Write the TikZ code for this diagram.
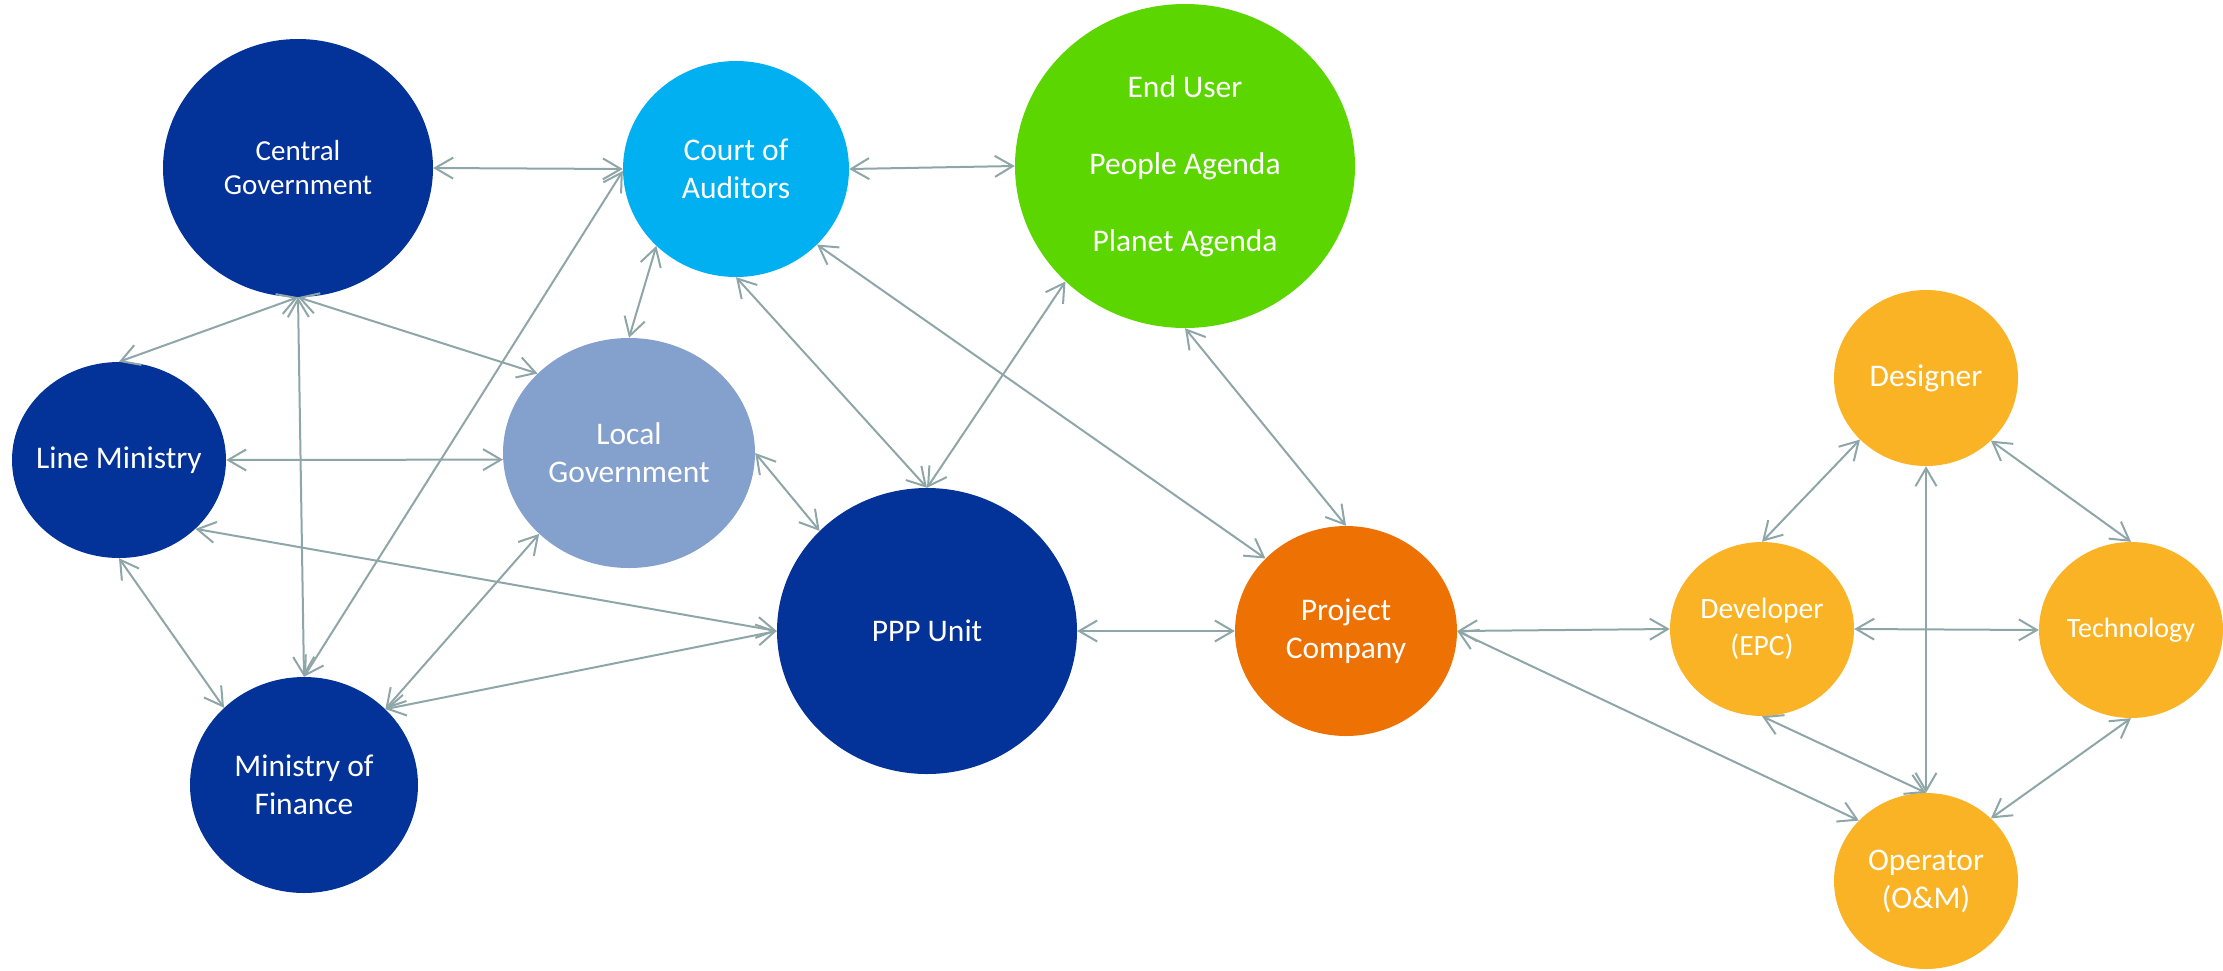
\documentclass[tikz,border=0pt]{standalone}
\usepackage{fontspec}
\setmainfont{Carlito}
\usetikzlibrary{shapes.geometric,arrows.meta}
\definecolor{dblue}{RGB}{3,51,153}
\definecolor{coac}{RGB}{0,176,240}
\definecolor{lgc}{RGB}{132,160,204}
\definecolor{euc}{RGB}{92,214,0}
\definecolor{pcc}{RGB}{238,114,3}
\definecolor{ylc}{RGB}{251,179,38}
\definecolor{arrc}{RGB}{143,166,168}
\tikzset{
  ell/.style={ellipse, draw=none, inner sep=0pt},
  lbl/.style={text=white, align=center, font=\fontsize{31.5}{38}\selectfont},
  conn/.style={draw=arrc, line width=2pt, <->},
  >={Straight Barb[length=18pt,width=21pt]}
}
\begin{document}
\begin{tikzpicture}[x=1pt,y=-1pt]
\useasboundingbox (0,0) rectangle (2223,970);
% ellipses
\node[ell, fill=dblue, minimum width=270pt, minimum height=258pt] (cg) at (298,168) {};
\node[ell, fill=coac, minimum width=226pt, minimum height=216pt] (coa) at (736,169) {};
\node[ell, fill=euc, minimum width=340pt, minimum height=324pt] (eu) at (1185,166) {};
\node[ell, fill=dblue, minimum width=214pt, minimum height=196pt] (lm) at (119,460) {};
\node[ell, fill=lgc, minimum width=252pt, minimum height=230pt] (lg) at (629,453) {};
\node[ell, fill=dblue, minimum width=300pt, minimum height=286pt] (ppp) at (927,631) {};
\node[ell, fill=dblue, minimum width=228pt, minimum height=216pt] (mof) at (304,785) {};
\node[ell, fill=pcc, minimum width=222pt, minimum height=210pt] (pc) at (1346,631) {};
\node[ell, fill=ylc, minimum width=184pt, minimum height=176pt] (des) at (1926,378) {};
\node[ell, fill=ylc, minimum width=184pt, minimum height=174pt] (dev) at (1762,629) {};
\node[ell, fill=ylc, minimum width=184pt, minimum height=176pt] (tech) at (2131,630) {};
\node[ell, fill=ylc, minimum width=184pt, minimum height=176pt] (op) at (1926,881) {};
% labels
\node[lbl, font=\fontsize{29}{34}\selectfont] (cgT) at (cg) {Central\\Government};
\node[lbl] (coaT) at (coa) {Court of\\Auditors};
\node[lbl] (euT) at (eu) {End User\\[39pt]People Agenda\\[39pt]Planet Agenda};
\node[lbl] (lmT) at (lm) {Line Ministry};
\node[lbl] (lgT) at (lg) {Local\\Government};
\node[lbl] (pppT) at (ppp) {PPP Unit};
\node[lbl] (mofT) at (mof) {Ministry of\\Finance};
\node[lbl] (pcT) at (pc) {Project\\Company};
\node[lbl] (desT) at (des) {Designer};
\node[lbl, font=\fontsize{29.5}{37}\selectfont] (devT) at (dev) {Developer\\(EPC)};
\node[lbl, font=\fontsize{28}{34}\selectfont] (techT) at (tech) {Technology};
\node[lbl] (opT) at (op) {Operator\\(O\&M)};
% connectors
\draw[conn] (cg.east) -- (coa.west);
\draw[conn] (coa.east) -- (eu.west);
\draw[conn] (cg.south) -- (lm.north);
\draw[conn] (cg.south) -- (lg.139);
\draw[conn] (cg.south) -- (mof.north);
\draw[conn] (coa.181) -- (mof.north);
\draw[conn] (coa.-136) -- (lg.north);
\draw[conn] (coa.south) -- (ppp.north);
\draw[conn] (coa.-43) -- (pc.138);
\draw[conn] (eu.-136) -- (ppp.north);
\draw[conn] (eu.south) -- (pc.north);
\draw[conn] (lm.east) -- (lg.183);
\draw[conn] (lm.-42) -- (ppp.west);
\draw[conn] (lm.south) -- (mof.136);
\draw[conn] (lg.east) -- (ppp.137);
\draw[conn] (lg.-138) -- (mof.43);
\draw[conn] (mof.43) -- (ppp.west);
\draw[conn] (ppp.east) -- (pc.west);
\draw[conn] (pc.east) -- (dev.west);
\draw[conn] (pc.east) -- (op.138);
\draw[conn] (des.-137) -- (dev.north);
\draw[conn] (des.-44) -- (tech.north);
\draw[conn] (des.south) -- (op.north);
\draw[conn] (dev.east) -- (tech.west);
\draw[conn] (dev.south) -- (op.north);
\draw[conn] (tech.south) -- (op.44);
\end{tikzpicture}
\end{document}
